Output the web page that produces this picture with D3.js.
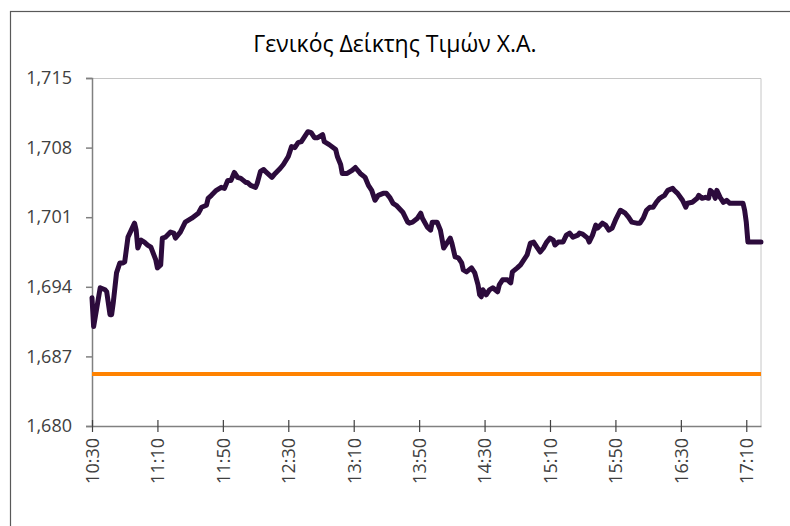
<!DOCTYPE html>
<html>
<head>
<meta charset="utf-8">
<script src="https://cdn.jsdelivr.net/npm/d3@7"></script>
<style>
  body { margin: 0; background: #fff; }
  svg text { font-family: "Open Sans", sans-serif; }
</style>
</head>
<body>
<svg id="chart"></svg>
<script>
// Δεδομένα (ώρα, τιμή δείκτη)
const times = ["10:30","10:31","10:35","10:38","10:39","10:41","10:42","10:43","10:45","10:47",
  "10:49","10:50","10:52","10:54","10:56","10:57","10:58","11:00","11:02","11:04",
  "11:06","11:09","11:10","11:12","11:13","11:15","11:18","11:20","11:21","11:24",
  "11:27","11:29","11:31","11:35","11:37","11:40","11:41","11:43","11:46","11:49",
  "11:51","11:53","11:55","11:57","11:59","12:01","12:04","12:05","12:07","12:10",
  "12:11","12:13","12:15","12:16","12:20","12:22","12:25","12:27","12:30","12:32",
  "12:34","12:36","12:38","12:40","12:42","12:44","12:46","12:48","12:51","12:52",
  "12:55","12:59","13:00","13:02","13:03","13:06","13:09","13:11","13:14","13:17",
  "13:19","13:21","13:23","13:25","13:28","13:30","13:32","13:34","13:36","13:40",
  "13:43","13:44","13:46","13:49","13:51","13:52","13:55","13:57","13:58","14:01",
  "14:03","14:05","14:07","14:09","14:10","14:12","14:14","14:16","14:17","14:19",
  "14:22","14:24","14:26","14:27","14:28","14:29","14:31","14:33","14:35","14:38",
  "14:39","14:41","14:44","14:46","14:47","14:50","14:52","14:54","14:56","14:58",
  "15:00","15:02","15:04","15:06","15:08","15:10","15:12","15:13","15:15","15:18",
  "15:20","15:22","15:24","15:27","15:28","15:30","15:33","15:34","15:36","15:38",
  "15:39","15:42","15:44","15:46","15:48","15:50","15:53","15:56","15:58","16:00",
  "16:03","16:05","16:07","16:09","16:11","16:13","16:15","16:17","16:20","16:22",
  "16:25","16:26","16:28","16:31","16:33","16:34","16:37","16:40","16:41","16:43",
  "16:45","16:47","16:48","16:50","16:51","16:52","16:54","16:56","16:58","17:00",
  "17:08","17:09","17:10","17:11","17:19"];

const values = [1692.9,1690.0,1693.9,1693.7,1693.5,1691.2,1691.2,1692.4,1695.4,1696.4,
  1696.4,1696.5,1699.0,1699.7,1700.4,1699.7,1697.9,1698.7,1698.5,1698.2,
  1698.0,1696.7,1695.9,1696.2,1698.9,1699.0,1699.5,1699.4,1698.9,1699.5,
  1700.5,1700.7,1700.9,1701.4,1702.0,1702.2,1702.9,1703.2,1703.7,1704.0,
  1703.9,1704.7,1704.7,1705.5,1705.0,1704.9,1704.5,1704.5,1704.2,1704.0,
  1704.4,1705.6,1705.8,1705.6,1705.0,1705.4,1705.9,1706.3,1707.1,1708.1,
  1708.0,1708.5,1708.6,1709.1,1709.6,1709.5,1709.0,1709.0,1709.3,1708.6,
  1708.3,1707.8,1707.1,1706.3,1705.4,1705.4,1705.7,1706.0,1705.4,1705.0,
  1704.2,1703.7,1702.7,1703.2,1703.4,1703.4,1703.0,1702.4,1702.2,1701.5,
  1700.5,1700.4,1700.5,1700.9,1701.4,1700.9,1700.0,1699.7,1700.5,1700.5,
  1699.7,1697.9,1698.4,1698.9,1698.4,1697.0,1696.9,1696.4,1695.7,1695.5,
  1695.9,1695.4,1694.2,1693.2,1693.0,1693.7,1693.2,1693.7,1693.9,1693.5,
  1694.2,1694.7,1694.7,1694.4,1695.5,1695.9,1696.2,1696.7,1697.2,1698.4,
  1698.5,1698.0,1697.5,1697.9,1698.5,1698.9,1698.7,1698.2,1698.5,1698.5,
  1699.2,1699.4,1699.0,1699.2,1699.4,1699.3,1698.9,1698.5,1699.2,1700.2,
  1699.9,1700.4,1700.2,1699.7,1699.9,1700.7,1701.7,1701.4,1701.0,1700.5,
  1700.4,1700.4,1700.9,1701.7,1702.0,1702.0,1702.5,1702.9,1703.2,1703.7,
  1703.9,1703.7,1703.4,1702.7,1702.0,1702.4,1702.5,1702.9,1703.2,1702.9,
  1703.0,1702.9,1703.7,1703.4,1702.9,1703.7,1703.0,1702.5,1702.7,1702.4,
  1702.4,1701.7,1700.5,1698.5,1698.5];

// Κλείσιμο προηγούμενης συνεδρίασης (πορτοκαλί γραμμή)
const prevClose = 1685.23;

// Άξονες
const yTicks = [1680, 1687, 1694, 1701, 1708, 1715];
const xTicks = ["10:30","11:10","11:50","12:30","13:10","13:50","14:30","15:10","15:50","16:30","17:10"];
const sessionStart = "10:30", sessionEnd = "17:19";
const title = "Γενικός Δείκτης Τιμών Χ.Α.";

const W = 790, H = 526;
const margin = { top: 78, right: 29, bottom: 100, left: 92 },
      width = W - margin.left - margin.right,
      height = H - margin.top - margin.bottom;

const parse = d3.timeParse("%H:%M");
const data = times.map((t, i) => ({ t: parse(t), v: values[i] }));

const root = d3.select("#chart").attr("width", W).attr("height", H);

// Περίγραμμα γραφήματος
root.append("rect")
  .attr("x", 10.5).attr("y", 11.5)
  .attr("width", W).attr("height", H)
  .attr("fill", "none").attr("stroke", "#595959").attr("stroke-width", 1.2);

// Τίτλος
root.append("text")
  .attr("x", 395).attr("y", 52)
  .attr("text-anchor", "middle")
  .attr("font-size", 23)
  .attr("fill", "#000")
  .text(title);

const svg = root.append("g").attr("transform", `translate(${margin.left},${margin.top})`);

const x = d3.scaleTime().domain([parse(sessionStart), parse(sessionEnd)]).range([0, width]);
const y = d3.scaleLinear().domain([yTicks[0], yTicks[yTicks.length - 1]]).range([height, 0]);

// Πλαίσιο περιοχής σχεδίασης (πάνω και δεξιά)
svg.append("path")
  .attr("d", `M0,0.5H${width}V${height}`)
  .attr("fill", "none").attr("stroke", "#c6c6c6").attr("stroke-width", 1);

// Άξονας Y
const yAxis = svg.append("g")
  .call(d3.axisLeft(y).tickValues(yTicks).tickSize(6).tickPadding(14).tickFormat(d3.format(",")));
yAxis.selectAll("line, path").attr("stroke", "#808080").attr("stroke-width", 1.5);
yAxis.selectAll("text").attr("font-size", 18).attr("fill", "#404040").attr("font-family", "Open Sans");

// Άξονας X
const xAxis = svg.append("g")
  .attr("transform", `translate(0,${height})`)
  .call(d3.axisBottom(x).tickValues(xTicks.map(parse)).tickSizeOuter(0).tickFormat(d3.timeFormat("%H:%M")));
xAxis.select(".domain").attr("stroke", "#808080").attr("stroke-width", 1.5);
xAxis.selectAll(".tick line").attr("y1", -6).attr("y2", 6).attr("stroke", "#404040").attr("stroke-width", 1.2);
xAxis.selectAll(".tick text")
  .attr("transform", "rotate(-90)")
  .attr("x", -12).attr("y", 0).attr("dy", "0.35em")
  .attr("text-anchor", "end")
  .attr("font-size", 18).attr("fill", "#404040").attr("font-family", "Open Sans");

// Πορτοκαλί γραμμή αναφοράς
svg.append("line")
  .attr("x1", 0).attr("x2", width)
  .attr("y1", y(prevClose)).attr("y2", y(prevClose))
  .attr("stroke", "#ff8200").attr("stroke-width", 4);

// Γραμμή δείκτη
svg.append("path")
  .datum(data)
  .attr("fill", "none")
  .attr("stroke", "#2c0b3c")
  .attr("stroke-width", 5)
  .attr("stroke-linejoin", "round")
  .attr("stroke-linecap", "round")
  .attr("d", d3.line().x(d => x(d.t)).y(d => y(d.v)));
</script>
</body>
</html>
